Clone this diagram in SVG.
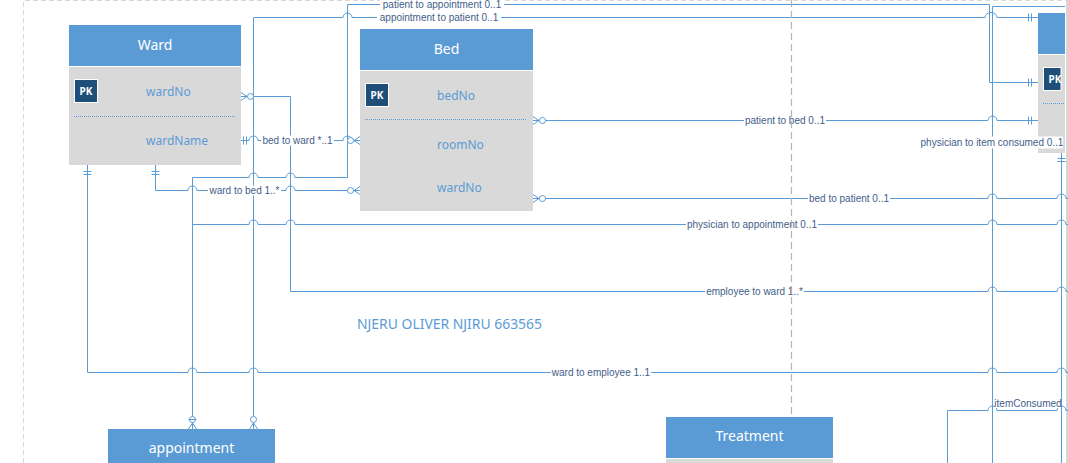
<svg xmlns="http://www.w3.org/2000/svg" width="1068" height="463" viewBox="0 0 1068 463">
  <style>
    .conn { fill: none; stroke: #5b9bd5; stroke-width: 1; }
    .mark { fill: none; stroke: #5b9bd5; stroke-width: 1; }
    .ring { fill: #ffffff; stroke: #5b9bd5; stroke-width: 1; }
    .lblbg { fill: #ffffff; }
    .lbl { font-family: "Liberation Sans", Arial, sans-serif; font-size: 10px; fill: #3f5e8a; text-anchor: middle; }
    .hdr { fill: #5b9bd5; }
    .body { fill: #d9d9d9; }
    .title { font-family: "Noto Sans", "Open Sans", sans-serif; font-size: 14px; fill: #ffffff; text-anchor: middle; }
    .field { font-family: "Noto Sans", "Open Sans", sans-serif; font-size: 12px; fill: #5b9bd5; }
    .pkbox { fill: #1f4e79; stroke: #ffffff; stroke-width: 1; }
    .pk { font-family: "Noto Sans", "Open Sans", sans-serif; font-size: 10px; font-weight: bold; fill: #ffffff; text-anchor: middle; }
    .sep { stroke: #5b9bd5; stroke-width: 1; stroke-dasharray: 1 1; }
    .page { fill: none; stroke: #d9d9d9; stroke-width: 1; stroke-dasharray: 5 3; }
    .guide { fill: none; stroke: #b4b4b4; stroke-width: 1.2; stroke-dasharray: 7 4; }
    .note { font-family: "Noto Sans", "Open Sans", sans-serif; font-size: 13.5px; fill: #5b9bd5; }
  </style>
  <defs>
    <!-- zero-or-many end: toes at x=0 (entity edge), line leaves toward +x -->
    <g id="zeroMany">
      <path class="mark" d="M0,-4 L6,0 L0,4 M0,0 H6"/>
      <circle class="ring" cx="9.5" cy="0" r="3"/>
    </g>
  </defs>

  <rect x="0" y="0" width="1068" height="463" fill="#ffffff"/>

  <!-- page border -->
  <path class="page" d="M23.5,463 V0.5 H1068"/>
  <rect x="1066" y="0" width="2" height="463" fill="#d6d6d6"/>

  <!-- entities -->
  <g id="ward">
    <rect class="hdr" x="69" y="25" width="172" height="41"/>
    <rect class="body" x="69" y="67" width="172" height="98"/>
    <text class="title" x="155" y="50">Ward</text>
    <rect class="pkbox" x="74.5" y="79.5" width="23" height="23"/>
    <text class="pk" x="86" y="95">PK</text>
    <text class="field" x="146" y="95.5">wardNo</text>
    <line class="sep" x1="74" y1="116.5" x2="236" y2="116.5"/>
    <text class="field" x="146" y="144.5">wardName</text>
  </g>

  <g id="bed">
    <rect class="hdr" x="360" y="29" width="173" height="41"/>
    <rect class="body" x="360" y="71" width="173" height="140"/>
    <text class="title" x="446.5" y="54">Bed</text>
    <rect class="pkbox" x="365.5" y="83.5" width="23" height="23"/>
    <text class="pk" x="377" y="99">PK</text>
    <text class="field" x="437" y="99.5">bedNo</text>
    <line class="sep" x1="365" y1="119.5" x2="527" y2="119.5"/>
    <text class="field" x="437" y="148.5">roomNo</text>
    <text class="field" x="437" y="191.5">wardNo</text>
  </g>

  <g id="patient">
    <rect class="hdr" x="1038" y="13" width="27" height="41"/>
    <rect class="body" x="1038" y="55" width="27" height="98"/>
    <rect class="pkbox" x="1043.5" y="67.5" width="17.5" height="23"/>
    <text class="pk" x="1055" y="83">PK</text>
    <line class="sep" x1="1043" y1="103.5" x2="1065" y2="103.5"/>
  </g>

  <g id="appointment">
    <rect class="hdr" x="108" y="429" width="167" height="34"/>
    <text class="title" x="191.5" y="453">appointment</text>
  </g>

  <g id="treatment">
    <rect class="hdr" x="666" y="417" width="167" height="41"/>
    <rect class="body" x="666" y="459" width="167" height="4"/>
    <text class="title" x="749.5" y="441">Treatment</text>
  </g>

  <!-- relationships -->
  <g id="connectors">
    <!-- patient to appointment -->
    <path class="conn" d="M192.5,429 V177.5 H249 a4.5,4.5 0 0 1 9,0 H286 a4.5,4.5 0 0 1 9,0 H347.5 V4.5 H989.5 V82.5 H1038"/>
    <!-- appointment to patient -->
    <path class="conn" d="M253.5,429 V17.5 H343 a4.5,4.5 0 0 1 9,0 H985 a6,5 0 0 1 12,0 H1038"/>
    <!-- employee to ward -->
    <path class="conn" d="M241,96.5 H290.5 V291.5 H988 a4.5,4.5 0 0 1 9,0 H1057 a4.5,4.5 0 0 1 9,0 H1068"/>
    <!-- bed to ward -->
    <path class="conn" d="M241,140.5 H249 a4.5,4.5 0 0 1 9,0 H343 a4.5,4.5 0 0 1 9,0 H360"/>
    <!-- ward to bed -->
    <path class="conn" d="M155.5,165 V190.5 H188 a4.5,4.5 0 0 1 9,0 H286 a4.5,4.5 0 0 1 9,0 H360"/>
    <!-- patient to bed -->
    <path class="conn" d="M533,120.5 H988 a4.5,4.5 0 0 1 9,0 H1038"/>
    <!-- bed to patient -->
    <path class="conn" d="M533,198.5 H988 a4.5,4.5 0 0 1 9,0 H1057 a4.5,4.5 0 0 1 9,0 H1068"/>
    <!-- physician to appointment -->
    <path class="conn" d="M192.5,429 V224.5 H249 a4.5,4.5 0 0 1 9,0 H286 a4.5,4.5 0 0 1 9,0 H988 a4.5,4.5 0 0 1 9,0 H1057 a4.5,4.5 0 0 1 9,0 H1068"/>
    <!-- ward to employee -->
    <path class="conn" d="M87.5,165 V372.5 H188 a4.5,4.5 0 0 1 9,0 H249 a4.5,4.5 0 0 1 9,0 H988 a4.5,4.5 0 0 1 9,0 H1057 a4.5,4.5 0 0 1 9,0 H1068"/>
    <!-- long verticals on the right -->
    <path class="conn" d="M1065,6.5 H992.5 V463"/>
    <path class="conn" d="M1061.5,153 V463"/>
    <!-- itemConsumed -->
    <path class="conn" d="M947.5,463 V410.5 H988 a4.5,4.5 0 0 1 9,0 H1057 a4.5,4.5 0 0 1 9,0 H1068"/>

    <!-- one-and-only-one ends -->
    <path class="mark" d="M243.5,136.5 v8 M246.5,136.5 v8"/>
    <path class="mark" d="M83.5,171.5 h8 M83.5,174.5 h8"/>
    <path class="mark" d="M151.5,171.5 h8 M151.5,174.5 h8"/>
    <path class="mark" d="M1028.5,13.5 v8 M1031.5,13.5 v8"/>
    <path class="mark" d="M1028.5,78.5 v8 M1031.5,78.5 v8"/>
    <path class="mark" d="M1028.5,116.5 v8 M1031.5,116.5 v8"/>
    <path class="mark" d="M1057.5,158.5 h8 M1057.5,161.5 h8"/>

    <!-- zero-or-many ends -->
    <use href="#zeroMany" transform="translate(241,96.5)"/>
    <use href="#zeroMany" transform="translate(360,140.5) scale(-1,1)"/>
    <use href="#zeroMany" transform="translate(360,190.5) scale(-1,1)"/>
    <use href="#zeroMany" transform="translate(533,120.5)"/>
    <use href="#zeroMany" transform="translate(533,198.5)"/>
    <use href="#zeroMany" transform="translate(253.5,429) rotate(-90)"/>
    <use href="#zeroMany" transform="translate(192.5,429) rotate(-90)"/>
    <path class="mark" d="M188.5,419.5 h8"/>

    <!-- labels -->
    <rect class="lblbg" x="380" y="-1" width="124" height="10"/>
    <text class="lbl" x="442" y="8">patient to appointment 0..1</text>
    <rect class="lblbg" x="377" y="12.5" width="124" height="10"/>
    <text class="lbl" x="439" y="21">appointment to patient 0..1</text>
    <rect class="lblbg" x="261" y="135.5" width="73" height="10"/>
    <text class="lbl" x="297.5" y="144">bed to ward *..1</text>
    <rect class="lblbg" x="208" y="185.5" width="73" height="10"/>
    <text class="lbl" x="244.5" y="194">ward to bed 1..*</text>
    <rect class="lblbg" x="744" y="115.5" width="82" height="10"/>
    <text class="lbl" x="785" y="124">patient to bed 0..1</text>
    <rect class="lblbg" x="808" y="193.5" width="82" height="10"/>
    <text class="lbl" x="849" y="202">bed to patient 0..1</text>
    <rect class="lblbg" x="686" y="219.5" width="132" height="10"/>
    <text class="lbl" x="752" y="228">physician to appointment 0..1</text>
    <rect class="lblbg" x="705" y="286.5" width="99" height="10"/>
    <text class="lbl" x="754.5" y="295">employee to ward 1..*</text>
    <rect class="lblbg" x="551" y="367.5" width="100" height="10"/>
    <text class="lbl" x="601" y="376">ward to employee 1..1</text>
    <rect class="lblbg" x="921" y="136.5" width="142" height="12"/>
    <text class="lbl" x="992" y="146">physician to item consumed 0..1</text>
    <rect class="lblbg" x="995" y="398" width="66" height="10"/>
    <text class="lbl" x="1028" y="407">itemConsumed</text>
  </g>

  <!-- vertical guide -->
  <line class="guide" x1="791.5" y1="0" x2="791.5" y2="415"/>

  <text class="note" x="357" y="329" textLength="185" lengthAdjust="spacingAndGlyphs">NJERU OLIVER NJIRU 663565</text>
</svg>
